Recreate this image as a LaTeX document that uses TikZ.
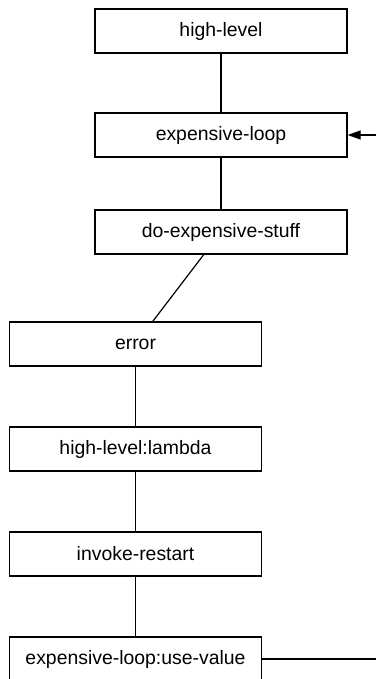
\documentclass[tikz,border=0pt]{standalone}
\usepackage{fontspec}
\setmainfont{Liberation Sans}
\usetikzlibrary{arrows.meta}
\begin{document}
\begin{tikzpicture}[x=1pt,y=1pt,
  framebox/.style={draw=black, line width=1.2pt, fill=white,
    minimum width=252pt, minimum height=44pt, inner sep=0pt,
    font=\fontsize{19.4}{23}\selectfont},
  link/.style={draw=black, line width=1.2pt}]
\clip (0,0) rectangle (376,-679);
\fill[white] (0,0) rectangle (376,-679);

% call stack, top to bottom
\node[framebox] (hl)   at (221,-31)    {high-level};
\node[framebox] (loop) at (221,-135)   {expensive-loop};
\node[framebox] (des)  at (221,-232)   {do-expensive-stuff};
\node[framebox] (err)  at (135.5,-344) {error};
\node[framebox] (lam)  at (135.5,-449) {high-level:lambda};
\node[framebox] (inv)  at (135.5,-554) {invoke-restart};
\node[framebox] (use)  at (135.5,-659) {expensive-loop:use-value};

\coordinate (outR) at (376,-659);
\coordinate (inR)  at (376,-135);

\draw[link] (hl) -- (loop);
\draw[link] (loop) -- (des);
\draw[link] (des) -- (err);
\draw[link] (err) -- (lam);
\draw[link] (lam) -- (inv);
\draw[link] (inv) -- (use);

% non-local transfer back to the loop
\draw[link] (use.east) -- (outR);
\draw[link, -{Triangle[length=13pt,width=9pt]}] (inR) -- (loop.east);
\end{tikzpicture}
\end{document}
